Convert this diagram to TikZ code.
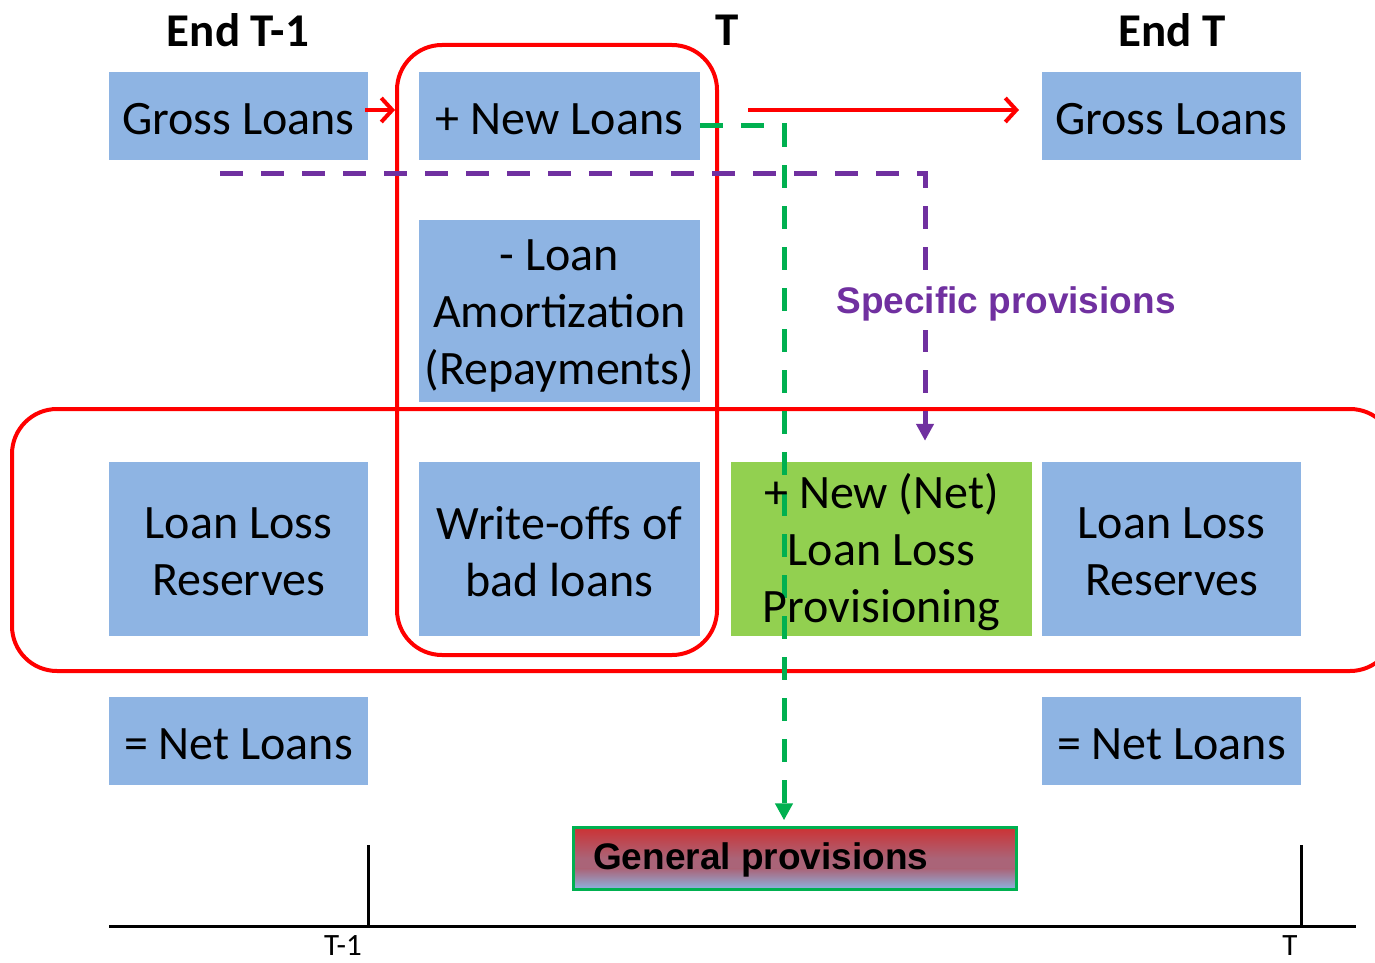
\documentclass[tikz,border=0pt]{standalone}
\usepackage{fontspec}
\setmainfont{Carlito}
\newfontfamily\arialfont{Liberation Sans}
\usetikzlibrary{arrows.meta}
\definecolor{boxblue}{RGB}{142,180,227}
\definecolor{boxgreen}{RGB}{146,208,80}
\definecolor{framered}{RGB}{255,0,0}
\definecolor{genline}{RGB}{0,176,80}
\definecolor{specline}{RGB}{112,48,160}
\definecolor{shadered}{RGB}{204,50,52}
\definecolor{shademid}{RGB}{170,100,120}
\definecolor{shadeblue}{RGB}{142,180,227}
\begin{document}
\begin{tikzpicture}[x=1pt,y=-1pt,
  acct/.style={fill=boxblue, inner sep=0pt},
  acctgreen/.style={acct, fill=boxgreen},
  accttext/.style={inner sep=0pt, align=center, font=\fontsize{48}{57}\selectfont},
  header/.style={font=\fontsize{47}{52}\selectfont\bfseries},
  frame/.style={draw=framered, line width=4pt, rounded corners=45pt},
  flow/.style={draw=framered, line width=4pt, -{Straight Barb[length=11pt,width=24pt]}},
  gendash/.style={draw=genline, line width=5pt, dash pattern=on 23pt off 18pt,
    -{Triangle[length=17pt,width=17pt]}},
  specdash/.style={draw=specline, line width=5pt, dash pattern=on 23pt off 18pt,
    -{Triangle[length=17pt,width=17pt]}},
  axis/.style={line width=3pt},
  ticklabel/.style={anchor=base, inner sep=0pt, text depth=0pt,
    font=\fontsize{31}{34}\selectfont}
]
\clip (0,0) rectangle (1375,963);
\fill[white] (0,0) rectangle (1375,963);

% column headers
\node[header] (hprev) at (238,30) {End T-1};
\node[header] (hnow)  at (727,30) {T};
\node[header] (hend)  at (1172,30) {End T};

% balance-sheet boxes
\node[acct, minimum width=259pt, minimum height=88pt]  (gl1)  at (238.5,116) {};
\node[acct, minimum width=281pt, minimum height=88pt]  (nl)   at (559.5,116) {};
\node[acct, minimum width=259pt, minimum height=88pt]  (gl2)  at (1171.5,116) {};
\node[acct, minimum width=281pt, minimum height=182pt] (am)   at (559.5,311) {};
\node[acct, minimum width=259pt, minimum height=174pt] (llr1) at (238.5,549) {};
\node[acct, minimum width=281pt, minimum height=174pt] (wo)   at (559.5,549) {};
\node[acctgreen, minimum width=301pt, minimum height=174pt] (np) at (881.5,549) {};
\node[acct, minimum width=259pt, minimum height=174pt] (llr2) at (1171.5,549) {};
\node[acct, minimum width=259pt, minimum height=88pt]  (net1) at (238.5,741) {};
\node[acct, minimum width=259pt, minimum height=88pt]  (net2) at (1171.5,741) {};

% general provisions bar: red on top, fading to blue at the bottom
\node[top color=shadered, bottom color=shademid, middle color=shademid,
  minimum width=443pt, minimum height=62pt, inner sep=0pt]
  (gp) at (795,858.5) {};
\shade[top color=shademid, bottom color=shadeblue]
  (gp.south west) rectangle ([yshift=-10pt]gp.east);
\draw[genline, line width=3pt] (gp.south west) rectangle (gp.north east);
\node[anchor=west, inner sep=0pt, font=\arialfont\bfseries\fontsize{37}{40}\selectfont]
  (gpt) at (593,860) {General provisions};

% box texts
\node[accttext] (gl1t)  at ([yshift=-3pt]gl1.center)  {Gross Loans};
\node[accttext] (nlt)   at ([yshift=-3pt]nl.center)   {+ New Loans};
\node[accttext] (gl2t)  at ([yshift=-3pt]gl2.center)  {Gross Loans};
\node[accttext] (amt)   at ([yshift=-5pt]am.center)   {- Loan\\Amortization\\(Repayments)};
\node[accttext] (llr1t) at ([yshift=-3pt]llr1.center) {Loan Loss\\Reserves};
\node[accttext] (wot)   at ([yshift=-3pt]wo.center)   {Write-offs of\\bad loans};
\node[accttext] (llr2t) at ([yshift=-3pt]llr2.center) {Loan Loss\\Reserves};
\node[accttext] (net1t) at ([yshift=-3pt]net1.center) {= Net Loans};
\node[accttext] (net2t) at ([yshift=-3pt]net2.center) {= Net Loans};

% red groupings
\draw[frame] (397,45) rectangle (717,655);
\draw[frame] (12,409) rectangle (1395,671);

% loan flows
\coordinate (f1a) at (365,110);
\coordinate (f1b) at (395,110);
\coordinate (f2a) at (748,110);
\coordinate (f2b) at (1019,110);
\draw[flow] (f1a) -- (f1b);
\draw[flow] (f2a) -- (f2b);

% general provisions path
\coordinate (g0) at (700,126);
\coordinate (g1) at (784,126);
\draw[gendash, shorten >=7pt] (g0) -- (g1) -- (g1 |- gp.north);

% provisioning text above the green dashed line
\node[accttext] (npt) at ([yshift=-3pt]np.center) {+ New (Net)\\Loan Loss\\Provisioning};

% specific provisions path
\coordinate (s0) at (220,173);
\coordinate (s1) at (925,173);
\draw[specdash, shorten >=21pt] (s0) -- (s1) -- (s1 |- np.north);
\node[fill=white, text=specline, minimum height=52pt, inner xsep=4pt, inner ysep=0pt,
  font=\arialfont\bfseries\fontsize{37}{40}\selectfont] (sp) at (1006,304) {Specific provisions};

% time axis
\coordinate (ax0) at (109,926);
\coordinate (ax1) at (1356,926);
\coordinate (tk0) at (368,845);
\coordinate (tk1) at (1301,845);
\draw[axis] (ax0) -- (ax1);
\draw[axis] (tk0) -- (tk0 |- ax0);
\draw[axis] (tk1) -- (tk1 |- ax0);
\node[ticklabel] (lt0) at (343,955) {T-1};
\node[ticklabel] (lt1) at (1290,955) {T};
\end{tikzpicture}
\end{document}
